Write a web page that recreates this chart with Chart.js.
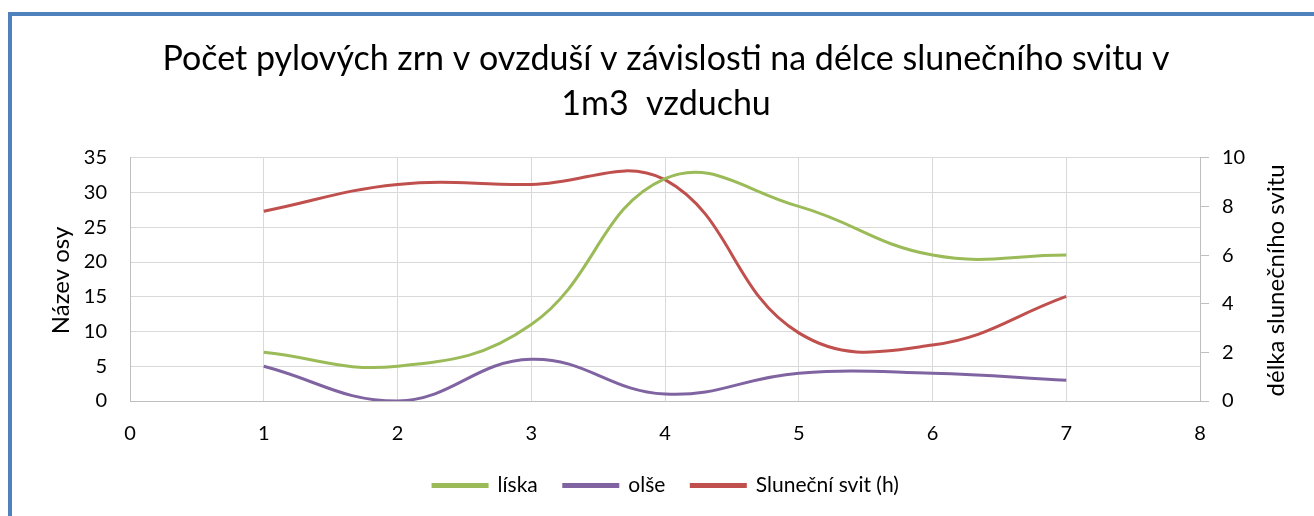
<!DOCTYPE html>
<html>
<head>
<meta charset="utf-8">
<script src="https://cdn.jsdelivr.net/npm/chart.js@4/dist/chart.umd.min.js"></script>
<style>
  html, body { margin: 0; padding: 0; background: #fff; }
  #wrap { position: relative; width: 1314px; height: 516px; overflow: hidden; }
  #frame {
    position: absolute; left: 8px; top: 12px; right: -10px; bottom: -10px;
    border-left: 4px solid #4f81bd; border-top: 4px solid #4f81bd;
  }
  canvas { position: absolute; left: 0; top: 0; }
</style>
</head>
<body>
<div id="wrap">
  <div id="frame"></div>
  <canvas id="chart" width="1314" height="516"></canvas>
</div>
<script>
const xValues = [1, 2, 3, 4, 5, 6, 7];
const liska = [7, 5, 11, 32, 28, 21, 21];
const olse = [5, 0, 6, 1, 4, 4, 3];
const svit = [7.8, 8.9, 8.9, 9.1, 2.8, 2.3, 4.3];

const titleLines = ['Počet pylových zrn v ovzduší v závislosti na délce slunečního svitu v', '1m3  vzduchu'];
const leftTitle = 'Název osy';
const rightTitle = 'délka slunečního svitu';

const FONT = 'Lato, "Noto Sans", sans-serif';
const gridColor = '#d9d9d9';

const toPoints = (ys) => xValues.map((x, i) => ({ x: x, y: ys[i] }));

// Excel-style axis titles, both rotated to read bottom-to-top
const axisTitles = {
  id: 'axisTitles',
  afterDraw(chart) {
    const ctx = chart.ctx;
    const mid = (chart.chartArea.top + chart.chartArea.bottom) / 2 + 1;
    ctx.save();
    ctx.fillStyle = '#000';
    ctx.font = '24px ' + FONT;
    ctx.textAlign = 'center';
    ctx.textBaseline = 'middle';
    [[61, leftTitle], [1276, rightTitle]].forEach(([x, t]) => {
      ctx.save();
      ctx.translate(x, mid);
      ctx.rotate(-Math.PI / 2);
      ctx.fillText(t, 0, 0);
      ctx.restore();
    });
    ctx.restore();
  }
};

const ds = (label, data, color, axis) => ({
  label: label,
  data: toPoints(data),
  borderColor: color,
  backgroundColor: color,
  borderWidth: 3,
  pointRadius: 0,
  tension: 0.42,
  yAxisID: axis
});

new Chart(document.getElementById('chart'), {
  type: 'line',
  data: {
    datasets: [
      ds('líska', liska, '#9bbb59', 'y'),
      ds('olše', olse, '#8064a2', 'y'),
      ds('Sluneční svit (h)', svit, '#c0504d', 'y2')
    ]
  },
  options: {
    responsive: false,
    animation: false,
    layout: { padding: { top: 37, right: 0, bottom: 10, left: 18 } },
    plugins: {
      title: {
        display: true,
        text: titleLines,
        color: '#000',
        font: { family: FONT, size: 34, weight: 'normal', lineHeight: 1.32 },
        padding: { top: 0, bottom: 31 }
      },
      legend: {
        position: 'bottom',
        labels: {
          color: '#000',
          font: { family: FONT, size: 21 },
          boxWidth: 54,
          boxHeight: 2,
          padding: 26
        }
      },
      tooltip: { enabled: false }
    },
    scales: {
      x: {
        type: 'linear',
        min: 0,
        max: 8,
        ticks: { stepSize: 1, color: '#000', font: { family: FONT, size: 20 }, padding: 21 },
        grid: { color: gridColor, drawTicks: false },
        border: { color: '#bfbfbf' },
        afterFit(s) { s.height = 48; }
      },
      y: {
        position: 'left',
        min: 0,
        max: 35,
        ticks: { stepSize: 5, color: '#000', font: { family: FONT, size: 20 }, padding: 23 },
        grid: { color: gridColor, drawTicks: false },
        border: { color: '#bfbfbf' },
        afterFit(s) { s.width = 112; }
      },
      y2: {
        position: 'right',
        min: 0,
        max: 10,
        ticks: { stepSize: 2, color: '#000', font: { family: FONT, size: 20 }, padding: 13 },
        grid: { drawOnChartArea: false, color: '#bfbfbf', tickLength: 9 },
        border: { color: '#bfbfbf' },
        afterFit(s) { s.width = 114; }
      }
    }
  },
  plugins: [axisTitles]
});
</script>
</body>
</html>
